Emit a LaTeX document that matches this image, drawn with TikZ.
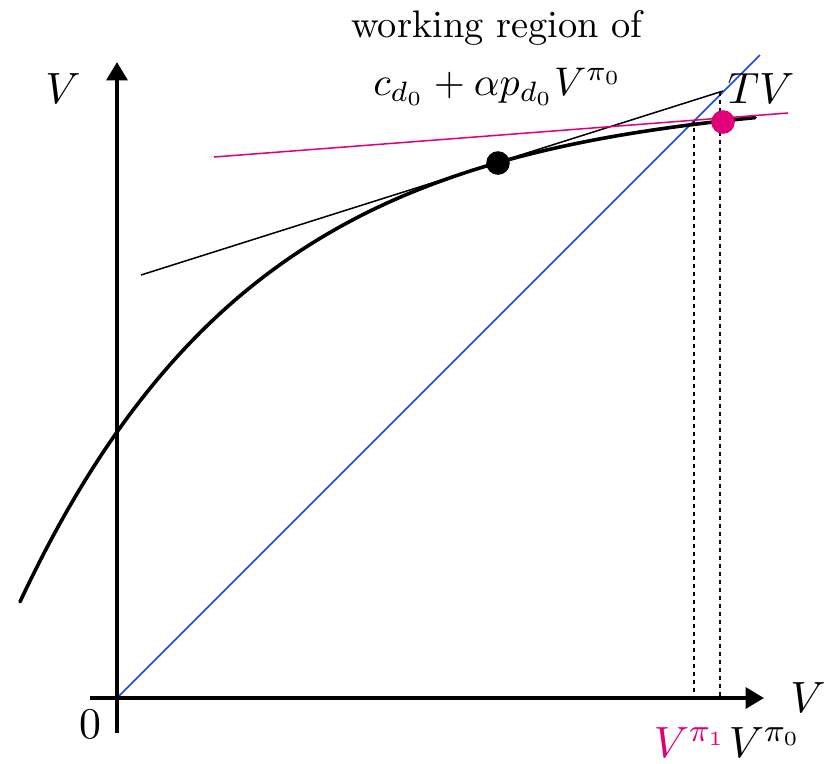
\documentclass[tikz,border=0pt]{standalone}
\usetikzlibrary{arrows.meta}
\definecolor{pinkc}{RGB}{226,0,122}
\definecolor{bluec}{RGB}{20,70,255}
\tikzset{
  axisline/.style={line width=1pt,-{Triangle[length=4.6pt,width=5.2pt]}},
  thinline/.style={line width=0.38pt},
  dashline/.style={line width=0.38pt,dash pattern=on 1pt off 1pt},
  curveline/.style={line width=0.9pt,line cap=round},
  dot/.style={circle,inner sep=0pt,minimum size=5.9pt},
  lab/.style={inner sep=0pt,anchor=base,font=\fontsize{11}{13}\selectfont},
  txt/.style={inner sep=0pt,anchor=base,font=\fontsize{9.6}{11}\selectfont},
}
\begin{document}
\begin{tikzpicture}[x=0.25pt,y=-0.25pt]
\useasboundingbox (0,0) rectangle (826,763);
% coordinates
\coordinate (O) at (117,698);
\coordinate (ybot) at (117,733);
\coordinate (ytop) at (117,62);
\coordinate (xleft) at (90,698);
\coordinate (xright) at (764,698);
\coordinate (bend) at (760,55);
\coordinate (tanA) at (141,275);
\coordinate (tanB) at (723,91);
\coordinate (pinkA) at (214,157);
\coordinate (pinkB) at (788,113);
\coordinate (d1top) at (694,120);
\coordinate (d1bot) at (694,698);
\coordinate (d2top) at (720,92);
\coordinate (d2bot) at (720,698);
% blue line y=x
\draw[bluec,thinline] (O) -- (bend);
% dashed
\draw[dashline] (d1top) -- (d1bot);
\draw[dashline] (d2top) -- (d2bot);
% axes
\draw[axisline] (ybot) -- (ytop);
\draw[axisline] (xleft) -- (xright);
% curve TV
\draw[curveline] plot[domain=20:755,samples=120,smooth] (\x,{698-(603.5-337.5*exp(-(\x-117)/238))});
% tangent lines
\draw[thinline] (tanA) -- (tanB);
\draw[pinkc,thinline] (pinkA) -- (pinkB);
% dots
\node[dot,fill=black] (bdot) at (498,163) {};
\node[dot,fill=pinkc] (pdot) at (723,122) {};
% labels
\node[lab] (Vy) at (63,103) {$V$};
\node[lab] (Vx) at (808,712) {$V$};
\node[lab] (zero) at (90,738) {$0$};
\node[lab] (TV) at (761,103) {$TV$};
\node[txt] (wr) at (497,37) {working region of};
\node[lab,font=\fontsize{10.2}{12}\selectfont] (form) at (498,95) {$c_{d_0}+\alpha p_{d_0}V^{\pi_0}$};
\node[lab,anchor=base east,text=pinkc] (vpi1) at (727,757) {$V^{\pi_1}$};
\node[lab,anchor=base west] (vpi0) at (728,757) {$V^{\pi_0}$};
\end{tikzpicture}
\end{document}
